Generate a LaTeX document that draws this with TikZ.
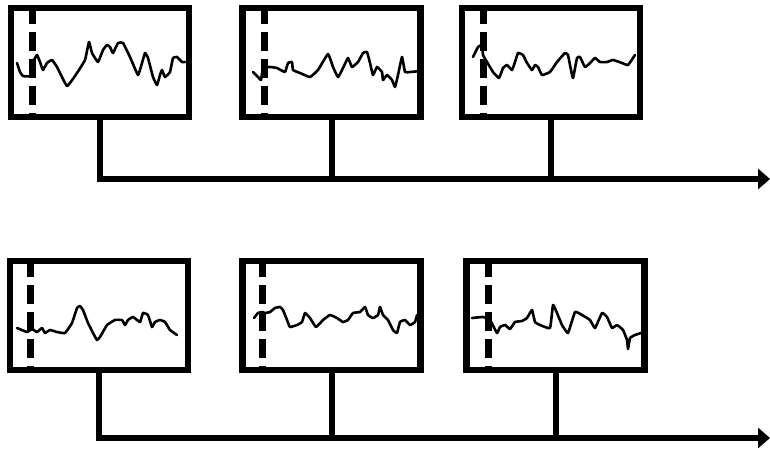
\documentclass[tikz,border=0pt]{standalone}
\usetikzlibrary{arrows.meta,positioning}
\tikzset{
  screen/.style={rectangle, draw, line width=6.5pt,
    minimum width=178pt, minimum height=109pt, inner sep=0pt},
  signal/.style={line width=2.6pt, line join=round, line cap=round},
  marker/.style={line width=7pt, dash pattern=on 19pt off 8pt},
  stem/.style={line width=6pt},
  timeline/.style={line width=6.5pt, -{Triangle[length=12pt,width=20pt]}}
}

\begin{document}
\begin{tikzpicture}[x=1pt, y=-1pt]
\useasboundingbox (0,0) rectangle (770,450);

% screens
\node[screen] (s1) at (100,62.5)  {};
\node[screen] (s2) at (331.5,62.5) {};
\node[screen] (s3) at (551,62.5)  {};
\node[screen] (s4) at (99,315.5)  {};
\node[screen] (s5) at (331.5,315.5) {};
\node[screen] (s6) at (555.5,315.5) {};

% time axes
\coordinate (t1) at (770,179);
\coordinate (t2) at (770,438);

% signals
\draw[signal] plot[smooth, tension=0.2] coordinates {(17,63) (20,72) (23,76) (30,76) (33,62) (37,55) (40,62) (43,70)
  (47,63) (52,60) (57,67) (67,86) (77,73) (85,60) (89,42) (92,53) (98,62) (103,50) (107,45) (110,47)
  (113,53) (118,43) (123,43) (130,57) (138,75) (142,63) (145,53) (148,58) (153,77) (157,85) (160,75)
  (162,70) (165,77) (170,72) (173,58) (177,57) (182,62) (185,62)};
\draw[signal] plot[smooth, tension=0.2] coordinates {(253,72) (258,77) (261,80) (263,68) (270,67) (277,68) (285,72)
  (288,63) (292,62) (293,70) (300,73) (310,77) (318,70) (328,54) (333,67) (338,77) (343,68) (348,58)
  (352,67) (358,62) (363,53) (367,52) (370,63) (373,75) (377,67) (382,72) (383,80) (387,75) (392,80)
  (395,87) (398,75) (402,57) (405,72) (410,72) (421,71)};
\draw[signal] plot[smooth, tension=0.2] coordinates {(473,57) (478,47) (482,45) (483,55) (487,62) (493,72) (499,78)
  (503,68) (507,65) (512,70) (515,62) (518,53) (523,55) (527,63) (532,70) (535,65) (538,67) (542,75)
  (550,72) (557,62) (565,53) (568,55) (570,65) (573,78) (577,58) (580,57) (585,67) (590,63) (595,58)
  (600,62) (607,62) (613,60) (622,63) (628,65) (635,55)};
\draw[signal] plot[smooth, tension=0.2] coordinates {(17,328) (27,332) (32,329) (37,332) (42,328) (45,333) (50,330)
  (57,332) (65,333) (72,323) (77,308) (80,306) (83,310) (88,323) (93,333) (97,340) (100,337)
  (107,325) (115,320) (122,320) (125,325) (128,320) (133,317) (140,322) (143,313) (148,315)
  (152,327) (155,322) (160,320) (165,322) (170,330) (177,335)};
\draw[signal] plot[smooth, tension=0.2] coordinates {(254,318) (258,313) (262,312) (265,313) (270,312) (275,308)
  (280,307) (283,310) (287,320) (290,327) (297,325) (302,322) (305,313) (310,318) (316,327)
  (323,320) (330,315) (337,318) (343,322) (348,320) (353,313) (360,312) (365,307) (368,315)
  (373,318) (378,315) (380,307) (383,315) (388,320) (393,330) (397,333) (400,322) (405,320)
  (410,325) (415,322) (417,315)};
\draw[signal] plot[smooth, tension=0.2] coordinates {(472,318) (483,317) (490,320) (497,333) (500,327) (505,325)
  (510,329) (515,322) (522,321) (527,318) (532,310) (535,322) (540,325) (550,328) (553,305)
  (557,313) (562,325) (568,333) (575,312) (582,315) (590,320) (595,328) (602,313) (607,317)
  (612,328) (617,325) (623,330) (627,340) (628,349) (630,338) (635,335) (641,333)};

% markers
\foreach \s/\d in {s1/25,s2/25,s3/25,s4/24,s5/23,s6/25}
  \draw[marker] ([xshift=\d pt]\s.north west) -- ([xshift=\d pt]\s.south west);

% connectors
\draw[timeline] (s1.south) |- (t1);
\draw[stem] (s2.south) -- (s2.south |- t1);
\draw[stem] (s3.south) -- (s3.south |- t1);
\draw[timeline] (s4.south) |- (t2);
\draw[stem] (s5.south) -- (s5.south |- t2);
\draw[stem] (s6.south) -- (s6.south |- t2);

\end{tikzpicture}
\end{document}
